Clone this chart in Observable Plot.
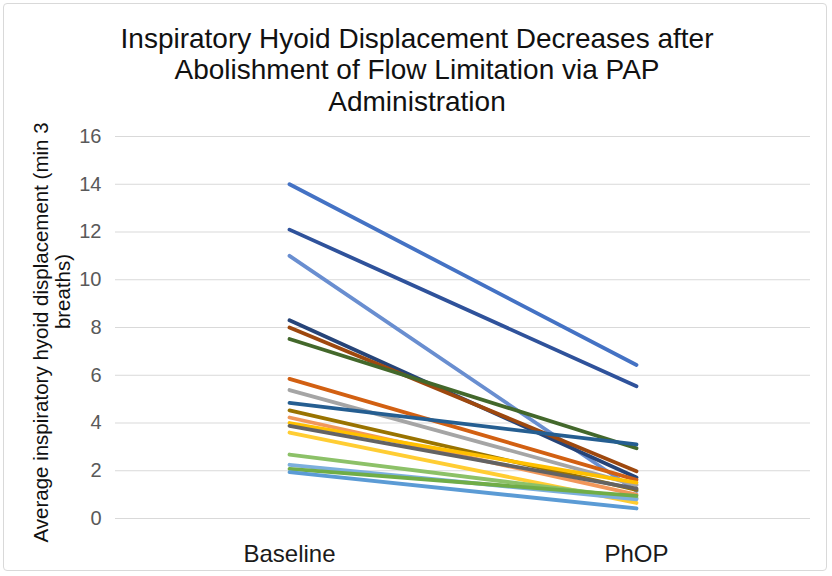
<!DOCTYPE html>
<html>
<head>
<meta charset="utf-8">
<script src="https://cdn.jsdelivr.net/npm/d3@7"></script>
<script src="https://cdn.jsdelivr.net/npm/@observablehq/plot@0.6"></script>
<style>
  html, body { margin: 0; padding: 0; background: #fff; }
  #wrap { position: relative; width: 832px; height: 576px; }
  #border { position: absolute; left: 3px; top: 3px; width: 824px; height: 568px;
            border: 1px solid #d9d9d9; border-radius: 4px; box-sizing: border-box; pointer-events: none; }
  svg { font-family: "Liberation Sans", Arial, sans-serif; }
</style>
</head>
<body>
<div id="wrap"><div id="border"></div></div>
<script>
const conditions = ["Baseline", "PhOP"];
const baselineValues = [14.0, 12.1, 11.0, 8.3, 8.0, 7.52, 5.85, 5.38, 4.84, 4.53, 4.23, 4.0, 3.88, 3.6, 2.68, 2.25, 2.08, 1.94];
const phopValues     = [6.43, 5.54, 1.15, 1.72, 1.98, 2.94, 1.62, 1.40, 3.10, 1.20, 1.00, 1.50, 1.25, 0.65, 0.85, 0.80, 0.95, 0.42];
const seriesColors = ["#4472C4", "#2F529B", "#698ED0", "#264478", "#9E480E", "#43682B", "#D26012", "#A5A5A5", "#255E91",
                      "#997300", "#F1975A", "#FFC000", "#636363", "#FFCD33", "#8CC168", "#7CAFDD", "#70AD47", "#5B9BD5"];
const yTicks = [0, 2, 4, 6, 8, 10, 12, 14, 16];
const titleText = "Inspiratory Hyoid Displacement Decreases after\nAbolishment of Flow Limitation via PAP\nAdministration";
const yTitle1 = "Average inspiratory hyoid displacement (min 3";
const yTitle2 = "breaths)";

const rows = [];
baselineValues.forEach((b, i) => {
  rows.push({s: i, cond: conditions[0], v: b});
  rows.push({s: i, cond: conditions[1], v: phopValues[i]});
});

const chart = Plot.plot({
  width: 832,
  height: 576,
  marginTop: 136,
  marginBottom: 58,
  marginLeft: 115,
  marginRight: 22,
  style: {fontFamily: "'Liberation Sans', Arial, sans-serif", background: "transparent"},
  x: {type: "point", domain: conditions, padding: 0.5, label: null},
  y: {domain: [0, 16], ticks: yTicks, label: null},
  color: {type: "ordinal", domain: d3.range(seriesColors.length), range: seriesColors},
  marks: [
    Plot.gridY(yTicks, {stroke: "#d9d9d9", strokeOpacity: 1, strokeWidth: 1.2}),
    Plot.axisY(yTicks, {tickSize: 0, tickPadding: 14, fontSize: 20, fill: "#595959", label: null}),
    Plot.axisX({tickSize: 0, tickPadding: 26, fontSize: 24, fill: "#1a1a1a", label: null}),
    Plot.line(rows, {x: "cond", y: "v", z: "s", stroke: "s", strokeWidth: 3.8, strokeLinecap: "round"}),
    Plot.text([titleText], {frameAnchor: "top", dx: -46, dy: -67, fontSize: 28, fill: "#111", lineHeight: 1.11, lineAnchor: "middle", text: d => d}),
    Plot.text([yTitle1], {frameAnchor: "left", textAnchor: "middle", rotate: -90, dx: -74, dy: 5, fontSize: 20.5, fill: "#111", text: d => d}),
    Plot.text([yTitle2], {frameAnchor: "left", textAnchor: "middle", rotate: -90, dx: -52, dy: -36, fontSize: 20.5, fill: "#111", text: d => d})
  ]
});
document.getElementById("wrap").prepend(chart);
</script>
</body>
</html>
